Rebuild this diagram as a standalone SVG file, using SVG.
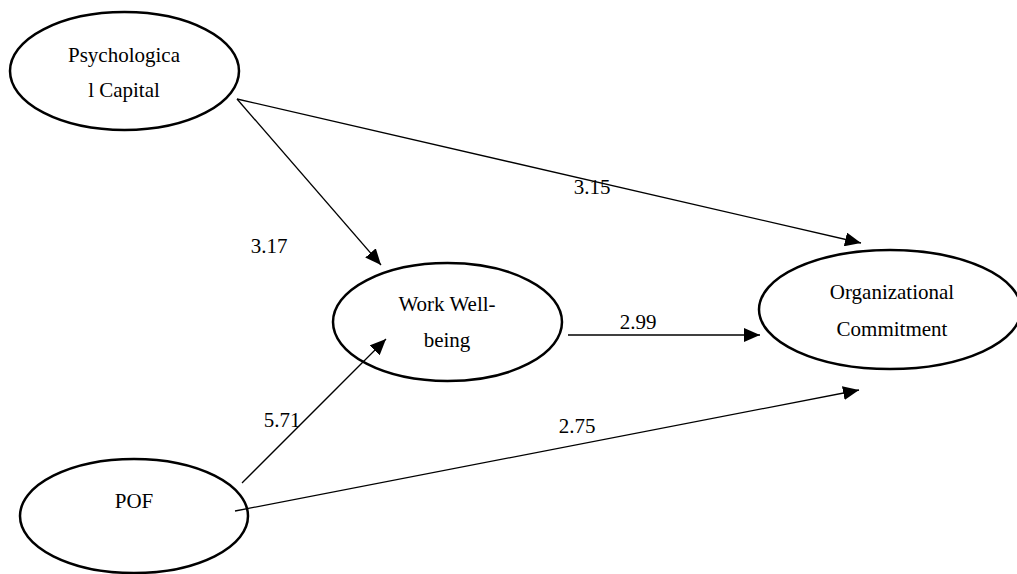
<svg xmlns="http://www.w3.org/2000/svg" width="1017" height="574" viewBox="0 0 1017 574">
<style>
.node ellipse{fill:none;stroke:#000;stroke-width:2.5}
text{font-family:'Liberation Serif','Times New Roman',serif;font-size:21px;fill:#000}
.node text{text-anchor:middle}
.lbl{text-anchor:middle}
.edge{stroke:#000;stroke-width:1.3;fill:none;marker-end:url(#ah)}
</style>
<defs>
<marker id="ah" markerUnits="userSpaceOnUse" markerWidth="16" markerHeight="14" viewBox="0 0 16 14" refX="16" refY="7" orient="auto">
<path d="M0,0 L16,7 L0,14 Z" fill="#000"/>
</marker>
</defs>
<rect width="1017" height="574" fill="#fff"/>
<g id="node-psycap" class="node">
<ellipse cx="124.5" cy="71" rx="114.5" ry="59"/>
<text x="124" y="62">Psychologica</text>
<text x="124" y="97">l Capital</text>
</g>
<g id="node-wwb" class="node">
<ellipse cx="447.5" cy="322" rx="114.5" ry="59"/>
<text x="447" y="311">Work Well-</text>
<text x="447" y="347">being</text>
</g>
<g id="node-oc" class="node">
<ellipse cx="890" cy="309.5" rx="131" ry="59.5"/>
<text x="892" y="299">Organizational</text>
<text x="892" y="336">Commitment</text>
</g>
<g id="node-pof" class="node">
<ellipse cx="134" cy="516" rx="114" ry="57"/>
<text x="134" y="508">POF</text>
</g>
<g id="connectors">
<line class="edge" x1="237" y1="99" x2="381" y2="265"/>
<line class="edge" x1="237" y1="99" x2="861" y2="243"/>
<line class="edge" x1="568" y1="335" x2="760" y2="335"/>
<line class="edge" x1="242" y1="483" x2="386" y2="339"/>
<line class="edge" x1="235" y1="511" x2="859" y2="390"/>
</g>
<g id="labels">
<text class="lbl" x="269" y="253">3.17</text>
<text class="lbl" x="592" y="194">3.15</text>
<text class="lbl" x="638" y="329">2.99</text>
<text class="lbl" x="282" y="427">5.71</text>
<text class="lbl" x="577" y="433">2.75</text>
</g>
</svg>
